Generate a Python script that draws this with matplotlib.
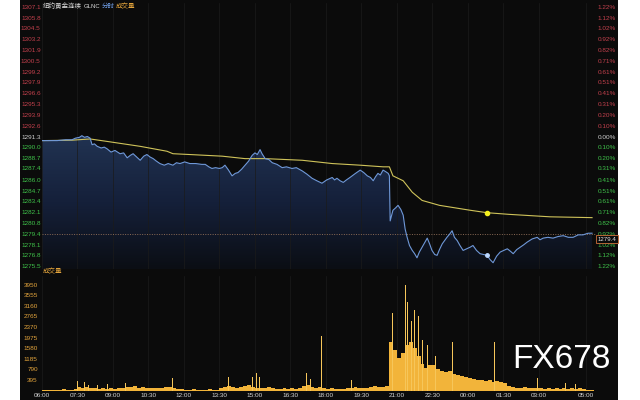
import numpy as np
import matplotlib
matplotlib.use("Agg")
import matplotlib.pyplot as plt
from matplotlib.colors import LinearSegmentedColormap
from matplotlib.patches import Rectangle

# ---- data (minutes after 06:00) ----
price_t = [0, 20, 38, 60, 76, 85, 95, 101, 108, 115, 122, 127, 133, 140, 150, 158, 165, 175, 185,
           198, 207, 216, 224, 231, 240, 249, 258, 266, 274, 282, 290, 299, 310, 320, 332, 341,
           350, 362, 375, 390, 405, 414, 423, 431, 440, 450, 457, 464, 473, 482, 490, 497, 506,
           515, 524, 533, 540, 546, 553, 558, 566, 575, 584, 596, 609, 620, 634, 645, 660, 672,
           685, 697, 710, 722, 736, 742, 748, 756, 764, 772, 781, 795, 807, 816, 825, 833, 840,
           846, 852, 858, 865, 872, 878, 881, 883, 890, 897, 903, 910, 916, 921, 926, 932, 939,
           945, 951, 957, 964, 970, 977, 983, 989, 996, 1002, 1008, 1015, 1021, 1027, 1034, 1040,
           1046, 1053, 1060, 1068, 1077, 1086, 1093, 1102, 1111, 1120, 1129, 1136, 1144, 1153,
           1162, 1171, 1180, 1188, 1195, 1204, 1213, 1222, 1230, 1243, 1256, 1263, 1271, 1283,
           1296, 1309, 1322, 1335, 1347, 1360, 1372, 1385, 1395]
price = [1290.8, 1290.8, 1290.8, 1290.9, 1290.9, 1291.1, 1291.2, 1291.4, 1291.2, 1291.3, 1291.1,
         1290.3, 1290.4, 1290.1, 1289.9, 1290.0, 1289.8, 1289.4, 1289.6, 1289.2, 1289.3, 1288.7,
         1289.0, 1289.2, 1288.8, 1288.4, 1288.9, 1289.1, 1288.8, 1288.6, 1288.3, 1288.0, 1287.8,
         1288.0, 1287.8, 1288.1, 1288.0, 1288.2, 1288.0, 1288.0, 1287.9, 1287.9, 1287.6, 1287.4,
         1287.5, 1287.4, 1287.5, 1287.8, 1287.2, 1286.5, 1286.8, 1286.9, 1287.3, 1287.8, 1288.3,
         1289.0, 1289.3, 1289.1, 1289.7, 1289.2, 1288.6, 1288.5, 1288.1, 1287.9, 1287.5, 1287.6,
         1287.4, 1287.5, 1287.1, 1286.7, 1286.2, 1285.9, 1285.6, 1286.0, 1286.3, 1286.0, 1286.2,
         1285.9, 1285.7, 1286.0, 1286.3, 1286.8, 1287.2, 1286.9, 1286.5, 1286.3, 1285.9, 1286.4,
         1286.8, 1286.6, 1287.2, 1287.0, 1286.8, 1286.5, 1281.0, 1282.3, 1282.6, 1282.9, 1282.4,
         1281.7, 1280.0, 1279.0, 1278.0, 1277.4, 1277.0, 1276.5, 1277.2, 1277.8, 1278.3, 1278.9,
         1278.2, 1277.4, 1276.9, 1276.8, 1277.5, 1278.2, 1278.6, 1279.0, 1279.4, 1279.8, 1279.0,
         1278.6, 1278.0, 1277.4, 1277.6, 1277.8, 1278.0, 1277.4, 1277.0, 1276.9, 1276.8, 1276.3,
         1275.9, 1276.7, 1277.2, 1277.4, 1277.6, 1277.3, 1277.0, 1277.5, 1277.8, 1278.1, 1278.4,
         1278.8, 1279.0, 1278.7, 1278.9, 1279.0, 1278.9, 1279.1, 1279.2, 1279.0, 1279.0, 1279.3,
         1279.3, 1279.5, 1279.5]

avg_t = [0, 76, 122, 165, 249, 317, 332, 375, 457, 515, 566, 660, 736, 807, 865, 881, 890, 916,
         939, 964, 1008, 1086, 1129, 1185, 1289, 1395]
avg_price = [1290.8, 1290.85, 1291.0, 1290.7, 1290.1, 1289.5, 1289.2, 1289.1, 1288.9, 1288.6,
             1288.6, 1288.4, 1288.0, 1287.8, 1287.6, 1287.6, 1286.5, 1285.9, 1284.5, 1283.5,
             1282.9, 1282.3, 1282.0, 1281.8, 1281.5, 1281.4]

cursor_t = 1129
cursor_price = 1276.8
cursor_avg = 1282.0
prev_close = 1279.4
last_price = "1279.4"

# volume, one value per 10-minute bin from 06:00
vol_base = [30, 20, 40, 20, 30, 50, 30, 40, 60,
            150, 90, 120, 80, 100, 70, 90, 60, 80,
            70, 110, 90, 140, 120, 160, 100, 130, 90,
            110, 80, 100, 90, 120, 150, 90, 60, 50,
            40, 30, 50, 40, 30, 40, 50, 40, 30,
            80, 150, 170, 120, 90, 140, 160, 210, 130,
            110, 90, 80, 120, 100, 70, 60, 80, 50,
            90, 70, 110, 160, 200, 130, 110, 120, 80,
            60, 80, 50, 70, 60, 90, 110, 140, 90,
            80, 100, 130, 160, 120, 150, 170, 1800, 1500,
            1200, 1400, 1700, 1800, 1600, 1300, 1000, 850, 950,
            950, 800, 720, 680, 720, 620, 580, 560, 520,
            480, 430, 380, 400, 360, 380, 330, 360, 320,
            300, 190, 140, 110, 100, 120, 90, 100, 80,
            90, 70, 100, 60, 80, 50, 110, 70, 90, 60, 80, 50, 40, 30]
spike_t = [91, 107, 117, 140, 167, 211, 236, 307, 317, 332, 472, 482, 533, 543, 551, 606, 670,
           682, 708, 786, 804, 842, 885, 890, 903, 921, 926, 936, 944, 954, 964, 977, 997, 1040,
           1093, 1147, 1187, 1256, 1327, 1352]
spike_v = [360, 320, 210, 200, 250, 280, 260, 210, 300, 480, 500, 390, 510, 660, 510, 510, 650,
           420, 2040, 400, 470, 960, 4200, 2900, 2400, 3950, 3300, 2600, 3000, 2800, 1900, 1700,
           1300, 1830, 880, 1830, 1730, 470, 280, 260]

price_ticks = ["1307.1", "1305.8", "1304.5", "1303.2", "1301.9", "1300.5", "1299.2", "1297.9",
               "1296.6", "1295.3", "1293.9", "1292.6", "1291.3", "1290.0", "1288.7", "1287.4",
               "1286.0", "1284.7", "1283.4", "1282.1", "1280.8", "1279.4", "1278.1", "1276.8",
               "1275.5"]
pct_ticks = ["1.22%", "1.12%", "1.02%", "0.92%", "0.82%", "0.71%", "0.61%", "0.51%", "0.41%",
             "0.31%", "0.20%", "0.10%", "0.00%", "0.10%", "0.20%", "0.31%", "0.41%", "0.51%",
             "0.61%", "0.71%", "0.82%", "0.92%", "1.02%", "1.12%", "1.22%"]
vol_ticks = [395, 790, 1185, 1580, 1975, 2370, 2765, 3160, 3555, 3950]
time_ticks = [0, 90, 180, 270, 360, 450, 540, 630, 720, 810, 900, 990, 1080, 1170, 1260, 1380]
time_labels = ["06:00", "07:30", "09:00", "10:30", "12:00", "13:30", "15:00", "16:30", "18:00",
               "19:30", "21:00", "22:30", "00:00", "01:30", "03:00", "05:00"]

# ---- styling ----
BG = "#0b0b0b"
RED = "#c2404c"
GREEN = "#3fc24a"
ORANGE = "#e3a43c"
BAR = "#f2b43a"
LINE = "#6f98d8"
AVG = "#cfc35a"
NUM_FONT = "Liberation Sans"
CJK = ["Noto Sans CJK SC", "DejaVu Sans"]

W, H = 640, 400
fig = plt.figure(figsize=(6.4, 4), dpi=100, facecolor="white")
fig.add_artist(Rectangle((20 / W, 0), 598 / W, 1, transform=fig.transFigure,
                         facecolor=BG, edgecolor="none", zorder=0))

x_max = 1405
# price panel: pixels 3..269 from top
ax = fig.add_axes([42 / W, (H - 269) / H, 554 / W, 266 / H])
ax.set_facecolor("none")
y_lo, y_hi = 1275.5 - 3 / 8.196, 1307.1 + 4 / 8.196
ax.set_xlim(0, x_max)
ax.set_ylim(y_lo, y_hi)

# gradient area under the price line
poly = ax.fill_between(price_t, price, y_lo, facecolor="none", edgecolor="none")
cmap = LinearSegmentedColormap.from_list("area", ["#0b0e14", "#15203a", "#213352"])
grad = np.linspace(0, 1, 256).reshape(-1, 1)
im = ax.imshow(grad, extent=[0, x_max, y_lo, max(price)], origin="lower", aspect="auto",
               cmap=cmap, zorder=1)
im.set_clip_path(poly.get_paths()[0], ax.transData)

ax.axhline(prev_close, color="#8a6a55", lw=0.7, ls=(0, (1, 1.5)), zorder=2)
ax.plot(avg_t, avg_price, color=AVG, lw=0.8, zorder=3)
ax.plot(price_t, price, color=LINE, lw=0.8, zorder=4)
ax.plot([cursor_t], [cursor_avg], "o", color="#f4f01e", ms=3, zorder=5)
ax.plot([cursor_t], [cursor_price], "o", color="#bcd8ff", ms=2.5, zorder=5)

ax.set_xticks(time_ticks)
ax.grid(axis="x", color="#1b1b1b", lw=0.5)
ax.tick_params(axis="x", length=0, labelbottom=False)
ax.set_yticks([float(p) for p in price_ticks])
ax.set_yticklabels(price_ticks, fontsize=4.6, family=NUM_FONT)
ax.tick_params(axis="y", length=0, pad=1)
for lab, txt in zip(ax.get_yticklabels(), price_ticks):
    v = float(txt)
    lab.set_color("#cfcfcf" if v == 1291.3 else (RED if v > 1291.3 else GREEN))
for s in ax.spines.values():
    s.set_visible(False)

ax2 = ax.twinx()
ax2.set_ylim(y_lo, y_hi)
ax2.set_yticks([float(p) for p in price_ticks])
ax2.set_yticklabels(pct_ticks, fontsize=4.6, family=NUM_FONT)
ax2.tick_params(axis="y", length=0, pad=1)
for i, lab in enumerate(ax2.get_yticklabels()):
    lab.set_color("#cfcfcf" if i == 12 else (RED if i < 12 else GREEN))
for s in ax2.spines.values():
    s.set_visible(False)
# current price box sits just under the 0.92% label, as in the reference
ax2.text(x_max + 4, prev_close - 0.62, last_price, fontsize=4.4, family=NUM_FONT,
         color="#e6e6e6", va="center", ha="left", clip_on=False, zorder=10,
         bbox=dict(boxstyle="square,pad=0.2", facecolor=BG, edgecolor="#d0703a", lw=0.6))

# title line
fig.text(43 / W, 1 - 6 / H, "纽约黄金连续", fontsize=4.7, family=CJK, color="#d8d8d8", va="center")
fig.text(84 / W, 1 - 6 / H, "GLNC", fontsize=4.3, family=NUM_FONT, color="#d8d8d8", va="center")
fig.text(102 / W, 1 - 6 / H, "分时", fontsize=4.7, family=CJK, color="#6f9ee8", va="center")
fig.text(116 / W, 1 - 6 / H, "成交量", fontsize=4.7, family=CJK, color=ORANGE, va="center")

# volume panel: zero at 390.6 px, 0.02681 px per unit
axv = fig.add_axes([42 / W, (H - 390.6) / H, 554 / W, 114.6 / H])
axv.set_facecolor("none")
axv.set_xlim(0, x_max)
axv.set_ylim(0, 114.6 / 0.02681)
bins = [10 * i for i in range(len(vol_base))]
axv.bar(bins, vol_base, width=10, align="edge", color=BAR, linewidth=0, zorder=2)
axv.bar(spike_t, spike_v, width=2.2, color="#f6c65a", linewidth=0, zorder=3)
axv.set_xticks(time_ticks)
axv.set_xticklabels(time_labels, fontsize=4.6, family=NUM_FONT, color="#d6d6d6")
axv.grid(axis="x", color="#1b1b1b", lw=0.5)
axv.tick_params(axis="x", length=0, pad=2)
axv.set_yticks(vol_ticks)
axv.set_yticklabels([str(v) for v in vol_ticks], fontsize=4.6, family=NUM_FONT, color=ORANGE)
axv.tick_params(axis="y", length=0, pad=3)
for s in axv.spines.values():
    s.set_visible(False)
fig.text(43 / W, 1 - 271 / H, "成交量", fontsize=4.7, family=CJK, color=ORANGE, va="center")

# watermark
fig.text(512 / W, 1 - 359 / H, "FX678", fontsize=24, family="Liberation Sans",
         color="white", va="center", ha="left", zorder=20)

fig.savefig("out.png", dpi=100, facecolor="white")
